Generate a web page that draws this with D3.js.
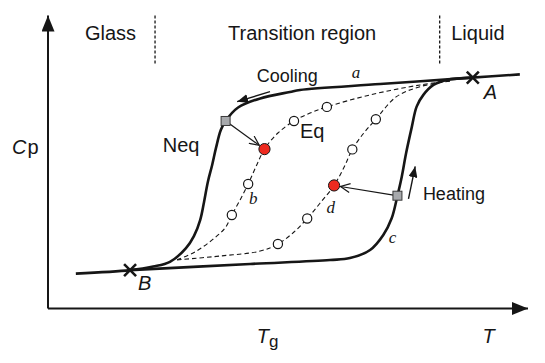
<!DOCTYPE html>
<html>
<head>
<meta charset="utf-8">
<script src="https://cdn.jsdelivr.net/npm/d3@7"></script>
<style>
  body { margin: 0; background: #fff; }
  svg { display: block; font-family: "Liberation Sans", Arial, Helvetica, sans-serif; }
</style>
</head>
<body>
<svg id="chart" width="545" height="363"></svg>
<script>
// values, arbitrary units: T (0-100) across, Cp (0-100) up
var coolingCurve = [[98.3, 79.9], [88.3, 78.8], [69.2, 76.6], [52.5, 74.6], [50.4, 73.9], [44.2, 71.7],
    [39.6, 68.6], [37.0, 64.0], [36.0, 60.9], [35.0, 54.8], [34.2, 49.0], [33.3, 43.2], [32.5, 36.3],
    [31.7, 30.2], [30.4, 24.7], [28.75, 20.6], [25.4, 15.9], [21.9, 14.3], [17.1, 13.1], [5.8, 11.9]];
var heatingCurve = [[17.1, 13.1], [42.1, 15.2], [58.75, 16.55], [62.9, 17.2], [67.1, 19.97], [69.85, 25.1],
    [71.6, 30.8], [72.8, 38.5], [73.7, 45.0], [74.6, 53.0], [75.8, 62.0], [76.8, 68.9], [78.2, 72.9],
    [80.3, 76.3], [83.1, 78.0], [88.3, 78.8]];
var eqCurveB = [[26.9, 16.6], [30.6, 19.3], [34.2, 23.4], [36.9, 27.5], [38.3, 31.9], [40.0, 37.0],
    [41.7, 42.5], [43.3, 48.3], [45.1, 54.4], [47.9, 59.9], [51.25, 64.0], [54.6, 66.7], [58.1, 68.8],
    [67.1, 72.9], [77.5, 76.3], [83.75, 77.7]];
var eqCurveD = [[26.9, 16.6], [35.8, 17.9], [44.2, 19.6], [47.9, 22.0], [51.25, 26.1], [54.0, 30.7],
    [56.7, 36.0], [59.6, 42.0], [61.7, 48.3], [63.4, 54.3], [65.8, 59.9], [68.3, 64.6], [72.6, 72.3],
    [77.5, 75.7], [83.75, 77.6]];
var openPoints = [[51.25, 64.0], [58.1, 68.8], [41.7, 42.5], [38.3, 31.9],
    [47.9, 22.0], [54.0, 30.7], [63.4, 54.3], [68.3, 64.6]];
var redPoints = [[45.1, 54.4], [59.6, 42.0]];
var squarePoints = [[37.0, 64.0], [72.8, 38.5]];
var crossPoints = [[88.5, 78.8], [17.1, 13.1]];
var regionSplits = [22.3, 81.6];

var svg = d3.select("#chart");
var ink = "#161616";

var x = d3.scaleLinear().domain([0, 100]).range([48, 528]);
var y = d3.scaleLinear().domain([0, 100]).range([308.5, 15.5]);

var defs = svg.append("defs");
defs.append("marker").attr("id", "axisHead")
    .attr("markerUnits", "userSpaceOnUse")
    .attr("markerWidth", 17).attr("markerHeight", 13)
    .attr("refX", 16).attr("refY", 6.5).attr("orient", "auto")
    .append("path").attr("d", "M0,0L16,6.5L0,13Z").attr("fill", ink);
defs.append("marker").attr("id", "fillHead")
    .attr("markerUnits", "userSpaceOnUse")
    .attr("markerWidth", 12).attr("markerHeight", 9)
    .attr("refX", 11).attr("refY", 4.5).attr("orient", "auto")
    .append("path").attr("d", "M0,0L11,4.5L0,9Z").attr("fill", ink);
defs.append("marker").attr("id", "openHead")
    .attr("markerUnits", "userSpaceOnUse")
    .attr("markerWidth", 12).attr("markerHeight", 10)
    .attr("refX", 10).attr("refY", 5).attr("orient", "auto")
    .append("path").attr("d", "M0.5,0.5L10,5L0.5,9.5")
    .attr("fill", "none").attr("stroke", ink).attr("stroke-width", 1.2);

// axes (plain arrows, no ticks)
svg.append("line")
    .attr("x1", x(0)).attr("y1", y(0)).attr("x2", x(0)).attr("y2", y(100))
    .attr("stroke", ink).attr("stroke-width", 2).attr("marker-end", "url(#axisHead)");
svg.append("line")
    .attr("x1", x(0)).attr("y1", y(0)).attr("x2", x(100)).attr("y2", y(0))
    .attr("stroke", ink).attr("stroke-width", 2).attr("marker-end", "url(#axisHead)");

// region separators
svg.selectAll(".split").data(regionSplits).enter().append("line")
    .attr("x1", d => x(d)).attr("x2", d => x(d))
    .attr("y1", y(100)).attr("y2", y(83.1))
    .attr("stroke", ink).attr("stroke-width", 1.3).attr("stroke-dasharray", "3,2");

var line = d3.line()
    .x(d => x(d[0]))
    .y(d => y(d[1]))
    .curve(d3.curveCatmullRom.alpha(0.5));

// equilibrium curves
[eqCurveB, eqCurveD].forEach(function (c) {
    svg.append("path").datum(c)
        .attr("d", line).attr("fill", "none")
        .attr("stroke", ink).attr("stroke-width", 1.1).attr("stroke-dasharray", "4.5,3");
});

// non-equilibrium cooling / heating curves
[coolingCurve, heatingCurve].forEach(function (c) {
    svg.append("path").datum(c)
        .attr("d", line).attr("fill", "none")
        .attr("stroke", ink).attr("stroke-width", 2.6).attr("stroke-linejoin", "round");
});

// arrow helper, in data units
function arrow(from, to, head, width) {
    svg.append("line")
        .attr("x1", x(from[0])).attr("y1", y(from[1]))
        .attr("x2", x(to[0])).attr("y2", y(to[1]))
        .attr("stroke", ink).attr("stroke-width", width)
        .attr("marker-end", "url(#" + head + ")");
}
arrow([46.25, 74.0], [39.4, 70.6], "fillHead", 1.4);
arrow([75.1, 37.4], [76.5, 48.5], "fillHead", 1.4);

// arrows from the squares (Neq) to the red points (Eq)
squarePoints.forEach(function (s, i) {
    var r = redPoints[i];
    var dx = x(r[0]) - x(s[0]), dy = y(r[1]) - y(s[1]);
    var len = Math.sqrt(dx * dx + dy * dy);
    svg.append("line")
        .attr("x1", x(s[0]) + dx / len * 4).attr("y1", y(s[1]) + dy / len * 4)
        .attr("x2", x(r[0]) - dx / len * 6.5).attr("y2", y(r[1]) - dy / len * 6.5)
        .attr("stroke", ink).attr("stroke-width", 1.2)
        .attr("marker-end", "url(#openHead)");
});

svg.selectAll(".open").data(openPoints).enter().append("circle")
    .attr("cx", d => x(d[0])).attr("cy", d => y(d[1])).attr("r", 4.6)
    .attr("fill", "#fff").attr("stroke", ink).attr("stroke-width", 1.2);

svg.selectAll(".red").data(redPoints).enter().append("circle")
    .attr("cx", d => x(d[0])).attr("cy", d => y(d[1])).attr("r", 5.6)
    .attr("fill", "#ee2a1f").attr("stroke", ink).attr("stroke-width", 1);

svg.selectAll(".sq").data(squarePoints).enter().append("rect")
    .attr("x", d => x(d[0]) - 4.5).attr("y", d => y(d[1]) - 4.5)
    .attr("width", 9).attr("height", 9)
    .attr("fill", "#a7a9ac").attr("stroke", "#3a3a3a").attr("stroke-width", 1);

svg.selectAll(".cross").data(crossPoints).enter().append("path")
    .attr("d", d => {
        var cx = x(d[0]), cy = y(d[1]), h = 6;
        return "M" + (cx - h) + "," + (cy - h) + "L" + (cx + h) + "," + (cy + h) +
            "M" + (cx - h) + "," + (cy + h) + "L" + (cx + h) + "," + (cy - h);
    })
    .attr("stroke", ink).attr("stroke-width", 2.6);

// texts
function label(t, tx, cy, size, style, family) {
    return svg.append("text")
        .attr("x", x(tx)).attr("y", y(cy))
        .attr("font-size", size)
        .attr("font-style", style || "normal")
        .attr("font-family", family || null)
        .attr("fill", ink)
        .text(t);
}
label("Glass", 7.7, 91.6, 20);
label("Transition region", 37.5, 91.6, 20);
label("Liquid", 84.0, 91.6, 20);
label("Cooling", 43.5, 77.4, 18);
label("Heating", 78.1, 37.0, 18);
label("Neq", 23.9, 53.5, 20);
label("Eq", 52.5, 58.2, 20);
label("A", 90.8, 71.4, 20, "italic");
label("B", 18.75, 6.3, 20, "italic");
var serif = "'Liberation Serif', 'Times New Roman', serif";
label("a", 63.3, 78.6, 17, "italic", serif);
label("b", 41.9, 35.7, 17, "italic", serif);
label("c", 71.0, 22.4, 17, "italic", serif);
label("d", 58.0, 32.5, 17, "italic", serif);

var cp = svg.append("text").attr("x", x(-7.5)).attr("y", y(52.7))
    .attr("font-size", 20).attr("fill", ink);
cp.append("tspan").attr("font-style", "italic").text("C");
cp.append("tspan").attr("dx", 1).text("p");

var tg = svg.append("text").attr("x", x(43.5)).attr("y", y(-11.9))
    .attr("font-size", 20).attr("fill", ink);
tg.append("tspan").attr("font-style", "italic").text("T");
tg.append("tspan").attr("font-size", 17).attr("dy", 4).text("g");

label("T", 90.5, -11.9, 20, "italic");
</script>
</body>
</html>
